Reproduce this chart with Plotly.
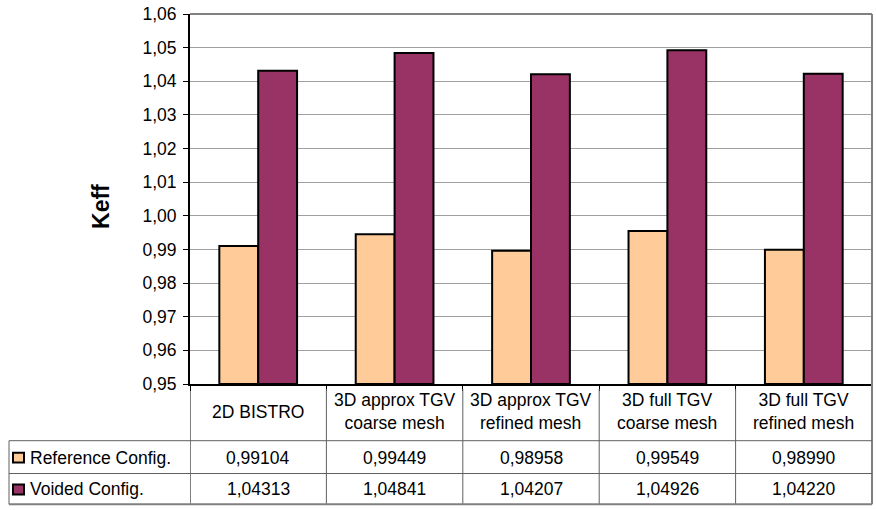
import plotly.graph_objects as go

categories = ["2D BISTRO", "3D approx TGV<br>coarse mesh", "3D approx TGV<br>refined mesh",
              "3D full TGV<br>coarse mesh", "3D full TGV<br>refined mesh"]
series_names = ["Reference Config.", "Voided Config."]
reference = [0.99104, 0.99449, 0.98958, 0.99549, 0.98990]
voided = [1.04313, 1.04841, 1.04207, 1.04926, 1.04220]
y_ticks = [0.95, 0.96, 0.97, 0.98, 0.99, 1.00, 1.01, 1.02, 1.03, 1.04, 1.05, 1.06]

colors = ["#FFCC99", "#993366"]
W, H = 876, 510
L, R, T, B = 190, 4, 12, 126
pw, ph = W - L - R, H - T - B
FS = 17.5

def py(pix):  # pixel y -> paper y
    return (H - B - pix) / ph

def px(pix):  # pixel x -> paper x
    return (pix - L) / pw

idx = list(range(len(categories)))
fig = go.Figure()
for name, vals, c in zip(series_names, [reference, voided], colors):
    fig.add_trace(go.Bar(x=idx, y=[v - 0.95 for v in vals], base=0.95, name=name,
                         marker=dict(color=c, line=dict(color="black", width=2)),
                         hoverinfo="y"))

shapes = []
annotations = []
line_c = "#606060"
# plot border top/right
shapes.append(dict(type="line", xref="paper", yref="paper", x0=0, x1=1, y0=1, y1=1,
                   line=dict(color="#808080", width=2)))
shapes.append(dict(type="line", xref="paper", yref="paper", x0=1, x1=1, y0=py(505), y1=1,
                   line=dict(color="#808080", width=2)))
# vertical dividers through table
for i in range(len(categories)):
    shapes.append(dict(type="line", xref="x", yref="paper", x0=i - 0.5, x1=i - 0.5,
                       y0=py(505), y1=py(389 if i > 0 else 384),
                       line=dict(color="black" if i == 0 else line_c, width=1)))
# horizontal rows
for yy in [441, 474]:
    shapes.append(dict(type="line", xref="paper", yref="paper", x0=px(9), x1=1, y0=py(yy), y1=py(yy),
                       line=dict(color=line_c, width=1)))
shapes.append(dict(type="line", xref="paper", yref="paper", x0=px(9), x1=1, y0=py(505), y1=py(505),
                   line=dict(color="#808080", width=2)))
shapes.append(dict(type="line", xref="paper", yref="paper", x0=px(9), x1=px(9), y0=py(505), y1=py(441),
                   line=dict(color=line_c, width=1)))

# header text
for i, c in enumerate(categories):
    annotations.append(dict(x=i, y=py(412), xref="x", yref="paper", text=c, showarrow=False,
                            yanchor="middle", font=dict(size=FS, color="black"), align="center"))
# data rows
row_y = [458, 490]
for r, (name, vals, col) in enumerate(zip(series_names, [reference, voided], colors)):
    for i, v in enumerate(vals):
        annotations.append(dict(x=i, y=py(row_y[r]), xref="x", yref="paper", yanchor="middle",
                                text=f"{v:.5f}".replace(".", ","), showarrow=False,
                                font=dict(size=FS, color="black")))
    annotations.append(dict(x=px(28), y=py(row_y[r]), xref="paper", yref="paper", text=name,
                            xanchor="left", yanchor="middle", showarrow=False,
                            font=dict(size=FS, color="black")))
    shapes.append(dict(type="rect", xref="paper", yref="paper", x0=px(13), x1=px(24),
                       y0=py(row_y[r] + 5), y1=py(row_y[r] - 5), fillcolor=col,
                       line=dict(color="black", width=2)))

annotations.append(dict(x=px(101), y=py(206), xref="paper", yref="paper", text="<b>Keff</b>",
                        textangle=-90, showarrow=False, xanchor="center", yanchor="middle",
                        font=dict(size=23, color="black")))

fig.update_layout(
    width=W, height=H, margin=dict(l=L, r=R, t=T, b=B),
    paper_bgcolor="white", plot_bgcolor="white",
    separators=", ",
    font=dict(family="Liberation Sans, Arial, sans-serif", size=FS, color="black"),
    showlegend=False, barmode="group", bargap=0.43, bargroupgap=0,
    shapes=shapes, annotations=annotations,
    xaxis=dict(type="linear", range=[-0.5, len(categories) - 0.5], showticklabels=False,
               showgrid=False, zeroline=False, showline=True, linecolor="black", linewidth=2,
               ticks="outside", tickvals=[i - 0.5 for i in range(len(categories) + 1)],
               ticklen=5, tickcolor="black"),
    yaxis=dict(range=[0.95, 1.06], tickvals=y_ticks, tickformat=".2f", showgrid=True,
               gridcolor="#A0A0A0", gridwidth=1, zeroline=False, showline=True,
               linecolor="black", linewidth=2, ticks="outside", ticklen=5, tickcolor="black",
               tickfont=dict(size=FS), ticklabelstandoff=3),
)
fig.write_html("out.html")
